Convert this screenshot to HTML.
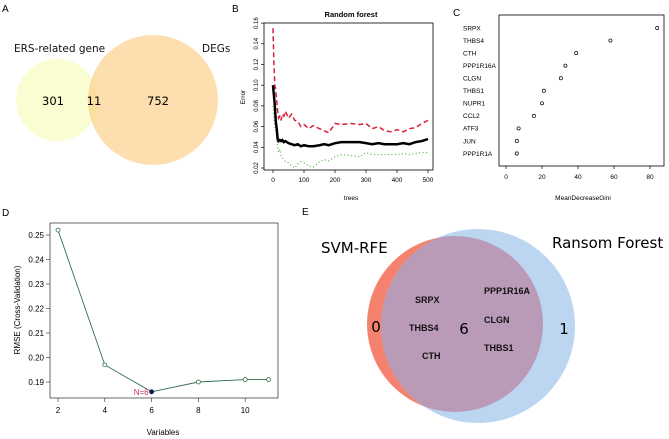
<!DOCTYPE html>
<html><head><meta charset="utf-8"><style>
body{margin:0;background:#fff;}
svg{display:block;font-family:"Liberation Sans",Arial,sans-serif;}
</style></head><body>
<svg id="fig" width="669" height="439" viewBox="0 0 669 439">
<!-- panel letters -->
<g font-size="10" fill="#000">
<text x="2" y="12">A</text>
<text x="232" y="12">B</text>
<text x="453" y="16">C</text>
<text x="2" y="216">D</text>
<text x="302" y="215">E</text>
</g>
<!-- Panel A -->
<g id="pa" font-family="'DejaVu Sans','Liberation Sans',sans-serif">
<circle cx="57" cy="100" r="41" fill="#fafccf" opacity="0.95"/>
<circle cx="153" cy="100" r="65" fill="#fbc87a" opacity="0.6"/>
<text x="14" y="52" font-size="10.5" fill="#111">ERS-related gene</text>
<text x="202" y="52" font-size="10.5" fill="#111">DEGs</text>
<text x="53" y="105" font-size="11.5" text-anchor="middle">301</text>
<text x="94" y="105" font-size="11.5" text-anchor="middle">11</text>
<text x="158" y="105" font-size="11.5" text-anchor="middle">752</text>
</g>
<!-- Panel B -->
<g id="pb" font-size="6.5">
<text x="351" y="17" text-anchor="middle" font-weight="bold" font-size="7.5">Random forest</text>
<rect x="264" y="23" width="169" height="147" fill="none" stroke="#000" stroke-width="0.8"/>
<text x="351" y="200" text-anchor="middle">trees</text>
<text transform="translate(245,97) rotate(-90)" text-anchor="middle">Error</text>
<g id="bAxes"></g><g id="bLines"></g>
</g>
<!-- Panel C -->
<g id="pc" font-size="6.5">
<rect x="499" y="15" width="165" height="151" fill="none" stroke="#000" stroke-width="0.8"/>
<text x="583" y="200" text-anchor="middle">MeanDecreaseGini</text>
<g id="cAxes"></g><g id="cPts"></g>
</g>
<!-- Panel D -->
<g id="pd" font-size="8">
<rect x="50" y="223" width="228" height="175" fill="none" stroke="#444" stroke-width="0.8"/>
<text x="163" y="435" text-anchor="middle">Variables</text>
<text transform="translate(20,310) rotate(-90)" text-anchor="middle">RMSE (Cross-Validation)</text>
<g id="dAxes"></g><g id="dLine"></g>
</g>
<!-- Panel E -->
<g id="pe">
<defs><clipPath id="redclip"><circle cx="455" cy="324" r="88"/></clipPath></defs>
<circle cx="455" cy="324" r="88" fill="#f5826e"/>
<circle cx="478" cy="326" r="97" fill="#bcd6f2"/>
<circle cx="478" cy="326" r="97" fill="#b99bb8" clip-path="url(#redclip)"/>
<g font-family="'DejaVu Sans','Liberation Sans',sans-serif" font-size="15">
<text x="321" y="253">SVM-RFE</text>
<text x="552" y="248">Ransom Forest</text>
<text x="376" y="332" text-anchor="middle">0</text>
<text x="464" y="334" text-anchor="middle">6</text>
<text x="564" y="334" text-anchor="middle">1</text>
</g>
<g font-size="9" font-weight="bold" fill="#111">
<text x="415" y="303">SRPX</text>
<text x="409" y="331">THBS4</text>
<text x="422" y="359">CTH</text>
<text x="484" y="294">PPP1R16A</text>
<text x="484" y="323">CLGN</text>
<text x="484" y="351">THBS1</text>
</g>
</g>
</svg>
<script>
// ---- Panel B data ----
const bTrees = [0,3,6,9,12,15,18,22,26,30,35,40,50,60,70,80,90,100,115,130,150,165,180,200,220,250,280,300,320,340,360,380,400,420,440,460,480,500];
const bOOB   = [0.100,0.090,0.080,0.065,0.058,0.048,0.046,0.047,0.046,0.047,0.045,0.046,0.044,0.043,0.042,0.043,0.041,0.042,0.041,0.041,0.042,0.043,0.042,0.044,0.045,0.045,0.045,0.044,0.043,0.044,0.043,0.043,0.043,0.044,0.043,0.045,0.046,0.048];
const bRed   = [0.155,0.120,0.100,0.095,0.085,0.075,0.068,0.070,0.066,0.072,0.070,0.075,0.068,0.072,0.066,0.065,0.060,0.062,0.058,0.061,0.058,0.056,0.054,0.063,0.062,0.063,0.062,0.063,0.058,0.060,0.056,0.055,0.057,0.055,0.058,0.059,0.063,0.066];
const bGreen = [0.080,0.070,0.060,0.055,0.050,0.040,0.035,0.038,0.032,0.030,0.028,0.026,0.025,0.022,0.020,0.024,0.026,0.025,0.022,0.021,0.026,0.028,0.027,0.031,0.033,0.032,0.031,0.035,0.033,0.033,0.033,0.033,0.033,0.034,0.033,0.034,0.035,0.035];
const bYTicks = [0.02,0.04,0.06,0.08,0.10,0.12,0.14,0.16];
const bXTicks = [0,100,200,300,400,500];
// ---- Panel C data ----
const cGenes = ["SRPX","THBS4","CTH","PPP1R16A","CLGN","THBS1","NUPR1","CCL2","ATF3","JUN","PPP1R1A"];
const cGini  = [84,58,39,33,30.5,21,20,15.5,7,6,6];
const cXTicks = [0,20,40,60,80];
// ---- Panel D data ----
const dVars = [2,4,6,8,10,11];
const dRMSE = [0.252,0.197,0.186,0.190,0.191,0.191];
const dYTicks = [0.19,0.20,0.21,0.22,0.23,0.24,0.25];
const dXTicks = [2,4,6,8,10];
const dBest = 6;

const NS="http://www.w3.org/2000/svg";
function mk(tag, attrs, parent, txt){const e=document.createElementNS(NS,tag);for(const k in attrs)e.setAttribute(k,attrs[k]);if(txt!==undefined)e.textContent=txt;parent.appendChild(e);return e;}

// Panel B
const bx=t=>273+(t/500)*155, by=v=>168-(v-0.02)/0.02*20.7;
const bA=document.getElementById('bAxes'), bL=document.getElementById('bLines');
bYTicks.forEach(v=>{
  const t=mk('line',{x1:264,x2:261,y1:by(v),y2:by(v),stroke:'#000','stroke-width':0.7},bA);
  
  const l=mk('text',{transform:`translate(258,${by(v)}) rotate(-90)`,'text-anchor':'middle','font-size':6},bA,v.toFixed(2));
  
});
bXTicks.forEach(v=>{
  const t=mk('line',{x1:bx(v),x2:bx(v),y1:170,y2:173,stroke:'#000','stroke-width':0.7},bA);
  
  const l=mk('text',{x:bx(v),y:182,'text-anchor':'middle'},bA,String(v));
  
});
function series(vals,col,w,dash,name){
  const p=mk('polyline',{points:bTrees.map((t,i)=>bx(t)+','+by(vals[i])).join(' '),fill:'none',stroke:col,'stroke-width':w,'stroke-dasharray':dash},bL);
  
}
series(bGreen,'#4cae3c',1.2,'1 2.5','rf-green-error-line');
series(bRed,'#d8203c',1.5,'5 3','rf-red-error-line');
series(bOOB,'#000',2.5,'none','rf-oob-error-line');

// Panel C
const cx=v=>506+v*1.8, cy=i=>28+i*12.55;
const cA=document.getElementById('cAxes'), cP=document.getElementById('cPts');
cXTicks.forEach(v=>{
  const t=mk('line',{x1:cx(v),x2:cx(v),y1:166,y2:169,stroke:'#000','stroke-width':0.7},cA);
  
  const l=mk('text',{x:cx(v),y:179,'text-anchor':'middle'},cA,String(v));
  
});
cGenes.forEach((g,i)=>{
  const l=mk('text',{x:463,y:cy(i)+2.3},cA,g);
  
  const c=mk('circle',{cx:cx(cGini[i]),cy:cy(i),r:1.6,fill:'none',stroke:'#000','stroke-width':0.7},cP);
  
});

// Panel D
const dx=v=>58+(v-2)*23.4, dy=v=>382-(v-0.19)/0.01*24.5;
const dA=document.getElementById('dAxes'), dL=document.getElementById('dLine');
dYTicks.forEach(v=>{
  const t=mk('line',{x1:50,x2:46,y1:dy(v),y2:dy(v),stroke:'#444','stroke-width':0.7},dA);
  
  const l=mk('text',{x:44,y:dy(v)+3,'text-anchor':'end'},dA,v.toFixed(2));
  
});
dXTicks.forEach(v=>{
  const t=mk('line',{x1:dx(v),x2:dx(v),y1:398,y2:402,stroke:'#444','stroke-width':0.7},dA);
  
  const l=mk('text',{x:dx(v),y:413,'text-anchor':'middle'},dA,String(v));
  
});
const pl=mk('polyline',{points:dVars.map((v,i)=>dx(v)+','+dy(dRMSE[i])).join(' '),fill:'none',stroke:'#2f6e4a','stroke-width':0.9},dL);

dVars.forEach((v,i)=>{
  const best=v===dBest;
  const c=mk('circle',{cx:dx(v),cy:dy(dRMSE[i]),r:2,fill:best?'#0a1a4a':'#fff',stroke:best?'#0a1a4a':'#2f6e4a','stroke-width':0.8},dL);
  
  if(best){
    const l=mk('text',{x:dx(v)-3,y:dy(dRMSE[i])+3,'text-anchor':'end',fill:'#d0305a'},dL,'N='+v);
    
  }
});
</script>
</body></html>
